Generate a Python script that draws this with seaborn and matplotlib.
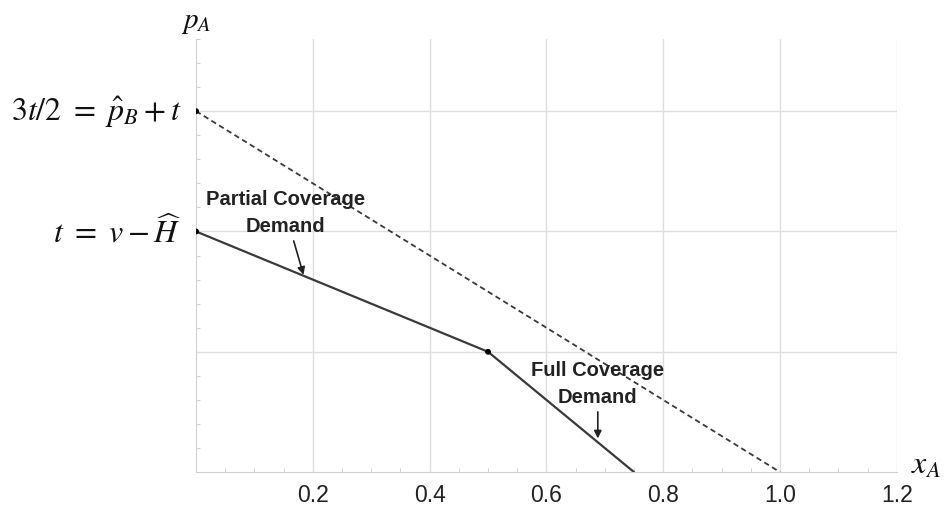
import matplotlib
matplotlib.use("Agg")
from matplotlib import pyplot as plt
from matplotlib.ticker import MultipleLocator
import seaborn as sns
import pandas as pd

# demand curves (x_A, p_A), t normalised to 1
partial_x = [0.0, 0.5]
partial_y = [1.0, 0.5]
full_x = [0.5, 0.75]
full_y = [0.5, 0.0]
dashed_x = [0.0, 1.0]
dashed_y = [1.5, 0.0]
dot_x = [0.0, 0.0, 0.5]
dot_y = [1.5, 1.0, 0.5]

x_ticks = [0.2, 0.4, 0.6, 0.8, 1.0, 1.2]
y_grid = [0.5, 1.0, 1.5]
y_labels = {1.5: r"$3t/2\ =\ \hat{p}_B+t$", 1.0: r"$t\ =\ v-\widehat{H}$"}

sns.set_style("white")
plt.rcParams["font.family"] = ["Liberation Sans", "DejaVu Sans"]
plt.rcParams["mathtext.fontset"] = "stix"

fig = plt.figure(figsize=(9.48, 5.06), dpi=100)
ax = fig.add_axes([0.2068, 0.065, 0.946 - 0.2068, 0.921 - 0.065])

line_col = "#3a3a3a"
solid = pd.DataFrame({"x": partial_x + full_x[1:], "y": partial_y + full_y[1:]})
dash = pd.DataFrame({"x": dashed_x, "y": dashed_y})
sns.lineplot(data=solid, x="x", y="y", ax=ax, color=line_col, lw=1.6, sort=False)
sns.lineplot(data=dash, x="x", y="y", ax=ax, color=line_col, lw=1.3, linestyle=(0, (3, 2)), sort=False)
sns.scatterplot(x=dot_x, y=dot_y, ax=ax, color="black", s=18, zorder=5, edgecolor="none")
ax.set_xlabel("")
ax.set_ylabel("")

ax.set_xlim(0, 1.2)
ax.set_ylim(0, 1.8)
ax.set_xticks(x_ticks)
ax.set_xticklabels([f"{v:.1f}" for v in x_ticks], fontsize=16.5, color="#222222")
ax.set_yticks(y_grid)
ax.set_yticklabels([])
ax.xaxis.set_minor_locator(MultipleLocator(0.05))
ax.yaxis.set_minor_locator(MultipleLocator(0.1))
ax.tick_params(axis="both", which="major", length=0, pad=8)
ax.tick_params(axis="both", which="minor", direction="in", length=3, color="#c8c8c8",
               bottom=True, left=True)
ax.grid(True, which="major", color="#dedede", lw=1)
for s in ["top", "right"]:
    ax.spines[s].set_visible(False)
for s in ["left", "bottom"]:
    ax.spines[s].set_color("#d0d0d0")

for yv, lab in y_labels.items():
    ax.text(-0.025, yv, lab, ha="right", va="center", fontsize=23, color="#111111")
ax.text(0.0, 1.875, r"$p_A$", ha="center", va="center", fontsize=21, color="#111111", clip_on=False)
ax.text(1.225, 0.03, r"$x_A$", ha="left", va="center", fontsize=23, color="#111111", clip_on=False)

ax.annotate("Partial Coverage\nDemand", xy=(0.184, 0.82), xytext=(0.153, 1.08),
            ha="center", va="center", fontsize=14.5, fontweight="bold", color="#222222",
            linespacing=1.5,
            arrowprops=dict(arrowstyle="-|>", color="#222222", lw=1.2,
                            shrinkA=2, shrinkB=0, mutation_scale=11))
ax.annotate("Full Coverage\nDemand", xy=(0.688, 0.14), xytext=(0.688, 0.37),
            ha="center", va="center", fontsize=14.5, fontweight="bold", color="#222222",
            linespacing=1.5,
            arrowprops=dict(arrowstyle="-|>", color="#222222", lw=1.2,
                            shrinkA=2, shrinkB=0, mutation_scale=11))

fig.savefig("out.png", dpi=100)
